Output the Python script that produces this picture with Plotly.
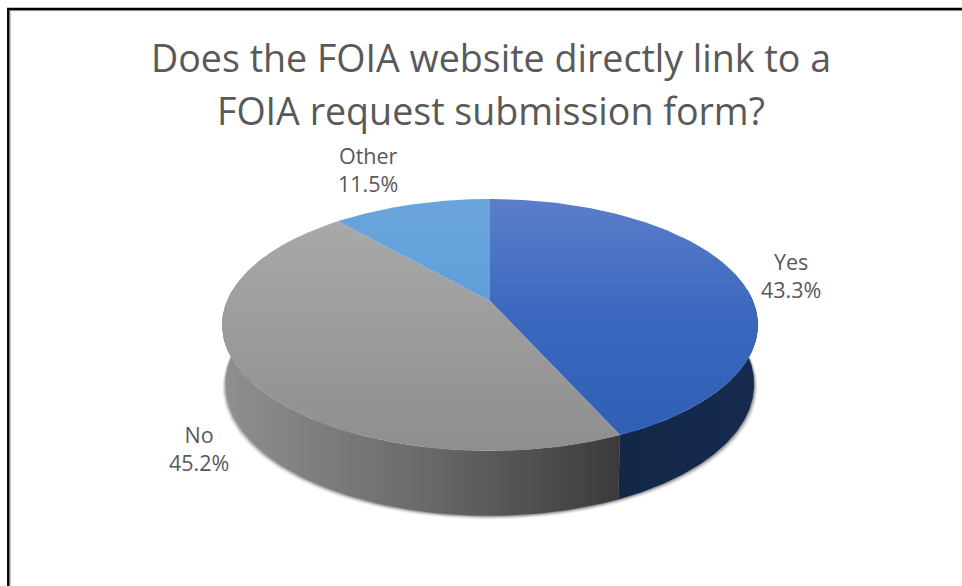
import numpy as np
import plotly.graph_objects as go

# ---- data ----
categories = ["Yes", "No", "Other"]
values = [43.3, 45.2, 11.5]
title_lines = ["Does the FOIA website directly link to a", "FOIA request submission form?"]
top_colors = {"Yes": [[0, "#2e5eb4"], [0.55, "#3b68bf"], [1, "#5c7ec9"]],
              "No": [[0, "#8e8e8e"], [1, "#ababab"]],
              "Other": [[0, "#5595d6"], [1, "#6aa5dc"]]}
wall_colors = {"Yes": [[0, "#132848"], [1, "#16294f"]],
               "No": [[0, "#8f8f8f"], [0.5, "#6a6a6a"], [1, "#3b3b3b"]]}

W, H = 962, 586
# projection of the round pie on to the page (pixels)
CX, CY, AX, BY, K = 490.0, 301.0, 263.0, 121.4, 0.19


def rim(turns):
    """Position on the upper rim for a fraction of a turn, clockwise from 12 o'clock."""
    t = np.asarray(turns, dtype=float) * 2 * np.pi
    u, v = np.sin(t), -np.cos(t)
    w = 1 - K * v
    return CX + AX * u / w, CY + BY * v / w, v


def lower(turns):
    """The matching point on the lower rim of the disc."""
    x, y, v = rim(turns)
    return CX + (x - CX) * 0.986, y + 58 + 7 * v


fractions = np.cumsum([0] + values) / sum(values)
fig = go.Figure()

# soft shadow under the disc
tt = np.linspace(0.15, 0.85, 240)
for grow, alpha in [(3.6, 0.06), (2.6, 0.09), (1.7, 0.13), (0.9, 0.18)]:
    lx, ly = lower(tt)
    ux, uy, _ = rim(tt[::-1])
    sx = CX + (lx - CX) * (1 + grow / 265)
    fig.add_trace(go.Scatter(x=np.r_[sx, ux], y=np.r_[ly + grow, uy], mode="lines",
                             line=dict(width=0), fill="toself",
                             fillcolor=f"rgba(0,0,0,{alpha})", hoverinfo="skip"))

# side wall (only the part of each slice facing the viewer)
for i, cat in enumerate(categories):
    if cat not in wall_colors:
        continue
    a, b = fractions[i], fractions[i + 1]
    a, b = max(a, 0.235), min(b, 0.765)
    tt = np.linspace(a, b, 160)
    ux, uy, _ = rim(tt)
    lx, ly = lower(tt)
    fig.add_trace(go.Scatter(x=np.r_[ux, lx[::-1]], y=np.r_[uy, ly[::-1]], mode="lines",
                             line=dict(width=0), fill="toself",
                             fillgradient=dict(type="horizontal", colorscale=wall_colors[cat],
                                               start=float(lx.min()), stop=float(lx.max())),
                             hoverinfo="skip"))

# top face
for i, cat in enumerate(categories):
    tt = np.linspace(fractions[i], fractions[i + 1], 200)
    x, y, _ = rim(tt)
    fig.add_trace(go.Scatter(x=np.r_[CX, x, CX], y=np.r_[CY, y, CY], mode="lines",
                             line=dict(width=0), fill="toself", name=cat,
                             fillgradient=dict(type="vertical", colorscale=top_colors[cat],
                                               start=451, stop=199),
                             hoverinfo="skip"))

FONT = "Open Sans, Noto Sans, sans-serif"
ann = [dict(x=491, y=57, text=title_lines[0], font=dict(size=37.6)),
       dict(x=491, y=110, text=title_lines[1], font=dict(size=37.6))]
label_pos = {"Yes": (791, 275), "No": (199, 448), "Other": (368, 169)}
for cat, v in zip(categories, values):
    px, py = label_pos[cat]
    ann.append(dict(x=px, y=py, text=f"{cat}<br>{v:.1f}%", font=dict(size=21.5)))
for a in ann:
    a.update(xref="x", yref="y", showarrow=False, xanchor="center", yanchor="middle")
    a["font"].update(family=FONT, color="#595959")

fig.update_layout(
    width=W, height=H, margin=dict(l=0, r=0, t=0, b=0), autosize=False,
    paper_bgcolor="white", plot_bgcolor="white", showlegend=False,
    xaxis=dict(range=[0, W], visible=False, fixedrange=True),
    yaxis=dict(range=[H, 0], visible=False, fixedrange=True),
    annotations=ann,
    shapes=[
        dict(type="line", xref="x", yref="y", x0=7, x1=W, y0=9, y1=9, line=dict(color="black", width=2.5)),
        dict(type="line", xref="x", yref="y", x0=8.3, x1=8.3, y0=8, y1=H, line=dict(color="black", width=2.5)),
        dict(type="line", xref="x", yref="y", x0=10, x1=W, y0=10.6, y1=10.6, line=dict(color="#8a8a8a", width=1)),
        dict(type="line", xref="x", yref="y", x0=10, x1=10, y0=10.6, y1=H, line=dict(color="#8a8a8a", width=1)),
    ],
)
fig.write_html("out.html", config=dict(displayModeBar=False),
               post_script="document.body.style.margin='0';document.body.style.overflow='hidden';")
